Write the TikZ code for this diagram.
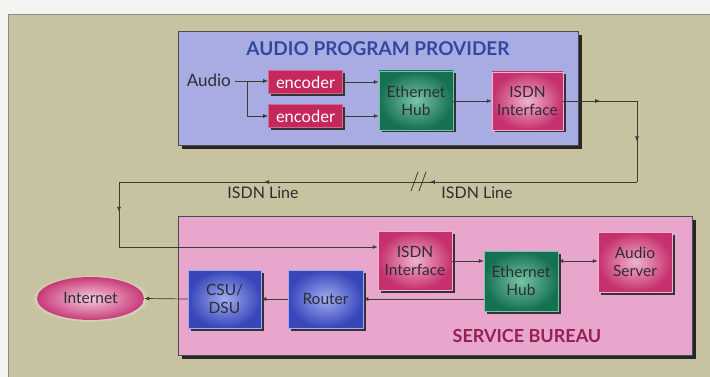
\documentclass[tikz,border=0pt]{standalone}
\usepackage{fontspec}
\setmainfont{Lato}
\usetikzlibrary{shadows,shapes.geometric,arrows.meta,decorations.markings}
\definecolor{pagebg}{RGB}{243,244,239}
\definecolor{tan}{RGB}{199,194,160}
\definecolor{appblue}{RGB}{168,172,226}
\definecolor{sbpink}{RGB}{232,166,204}
\definecolor{enccol}{RGB}{196,40,92}
\definecolor{pinkin}{RGB}{240,178,206}
\definecolor{pinkout}{RGB}{198,48,110}
\definecolor{greenin}{RGB}{120,196,166}
\definecolor{greenout}{RGB}{22,112,82}
\definecolor{bluein}{RGB}{160,172,240}
\definecolor{blueout}{RGB}{56,70,186}
\definecolor{inetin}{RGB}{246,205,224}
\definecolor{inetout}{RGB}{200,58,120}
\definecolor{titleblue}{RGB}{50,72,160}
\definecolor{sbtext}{RGB}{150,32,82}
\definecolor{linecol}{RGB}{60,60,55}
\definecolor{txtdark}{RGB}{45,45,50}
\tikzset{
  x=1pt, y=-1pt,
  bigshadow/.style={drop shadow={shadow xshift=3.5pt, shadow yshift=-3.5pt, fill=black!85, opacity=1}},
  smallshadow/.style={drop shadow={shadow xshift=2.5pt, shadow yshift=-2.5pt, fill=black!80, opacity=1}},
  boxtext/.style={font=\fontsize{15.5}{18}\selectfont, text=txtdark, align=center, inner sep=0pt},
  encbox/.style={rectangle, fill=enccol, draw=enccol!70!white, line width=0.6pt, minimum width=74pt, minimum height=23pt, smallshadow, text=white, font=\fontsize{16.5}{18}\selectfont, inner sep=0pt},
  pinkbox/.style={rectangle, inner color=pinkin, outer color=pinkout, draw=pinkin, line width=0.5pt, minimum width=74pt, minimum height=59pt, smallshadow, boxtext},
  greenbox/.style={rectangle, inner color=greenin, outer color=greenout, draw=greenin, line width=0.5pt, minimum width=74pt, minimum height=59pt, smallshadow, boxtext},
  bluebox/.style={rectangle, inner color=bluein, outer color=blueout, draw=bluein, line width=0.5pt, minimum width=74pt, minimum height=58pt, smallshadow, boxtext},
  conn/.style={draw=linecol, line width=0.7pt},
  tip/.style={-{Latex[length=5pt,width=4pt]}},
  midarrow/.style={postaction={decorate, decoration={markings, mark=at position #1 with {\arrow{Latex[length=5pt,width=4pt]}}}}},
  lbl/.style={font=\fontsize{16}{18}\selectfont, text=txtdark, inner sep=0pt},
}
\begin{document}
\begin{tikzpicture}
\useasboundingbox (0,0) rectangle (710,377);
\fill[pagebg] (0,0) rectangle (710,377);
\fill[tan] (8,14) rectangle (710,377);
\draw[black!45, line width=0.8pt] (8,377) -- (8,14) -- (710,14);

% large panels
\node[bigshadow, rectangle, fill=appblue, draw=black!70, line width=0.6pt, minimum width=400pt, minimum height=114pt, anchor=north west, inner sep=0pt] (app) at (178,31) {};
\node[bigshadow, rectangle, fill=sbpink, draw=black!70, line width=0.6pt, minimum width=514pt, minimum height=139pt, anchor=north west, inner sep=0pt] (sb) at (178,216) {};

\node[font=\fontsize{19}{22}\selectfont\bfseries, text=titleblue, inner sep=0pt] (title) at (378,49) {AUDIO PROGRAM PROVIDER};
\node[font=\fontsize{18}{21}\selectfont\bfseries, text=sbtext, inner sep=0pt] (sbtitle) at (527,336) {SERVICE BUREAU};

% top nodes
\node[lbl, font=\fontsize{17}{19}\selectfont, anchor=east] (audio) at (231,80) {Audio};
\node[encbox] (enc1) at (305.5,82) {encoder};
\node[encbox] (enc2) at (305.5,116) {encoder};
\node[greenbox] (hub1) at (416,100.5) {Ethernet\\Hub};
\node[pinkbox, minimum width=71pt, minimum height=58pt] (isdn1) at (527.5,101) {ISDN\\Interface};

% bottom nodes
\node[pinkbox] (isdn2) at (415,260.5) {ISDN\\Interface};
\node[greenbox, minimum height=60pt] (hub2) at (521,281) {Ethernet\\Hub};
\node[pinkbox, minimum height=60pt] (aserver) at (635,262) {Audio\\Server};
\node[bluebox, minimum width=75pt] (router) at (325.5,299) {Router};
\node[bluebox, minimum width=73pt] (csu) at (224.5,299) {CSU/\\DSU};
\node[ellipse, inner color=inetin, outer color=inetout, minimum width=107pt, minimum height=43pt, inner sep=0pt, boxtext, circular glow={fill=white!50!tan, shadow scale=1.1}] (inet) at (90.5,298.5) {Internet};

% coordinates
\coordinate (split) at (247,81);
\coordinate (c1) at (637,101);
\coordinate (c2) at (637,182);
\coordinate (c3) at (119,182);
\coordinate (c4) at (119,247);

% top connectors
\draw[conn, tip] (audio.east |- split) ++(4,0) -- (enc1.west |- split);
\draw[conn, tip] (split) |- (enc2.west);
\draw[conn, tip] (enc1.east) -- (enc1.east -| hub1.west);
\draw[conn, tip] (enc2.east) -- (enc2.east -| hub1.west);
\draw[conn, tip] (hub1.east |- isdn1.west) -- (isdn1.west);

% ISDN line
\draw[conn, midarrow=0.5] (isdn1.east) -- (c1);
\draw[conn, midarrow=0.5] (c1) -- (c2);
\draw[conn, midarrow=0.4, midarrow=0.72] (c2) -- (c3);
\draw[conn, midarrow=0.46] (c3) -- (c4);
\draw[conn, tip] (c4) -- (c4 -| isdn2.west);
\draw[linecol, line width=0.8pt] (411,191) -- (418,172) (419,191) -- (426,172);
\node[lbl, anchor=base] (l1) at (263,198) {ISDN Line};
\node[lbl, anchor=base] (l2) at (477,198) {ISDN Line};

% bottom connectors
\coordinate (r1) at (452,261);
\draw[conn, tip] (r1) -- (r1 -| hub2.west);
\coordinate (r2) at (558,261);
\draw[conn, {Latex[length=5pt,width=4pt]}-{Latex[length=5pt,width=4pt]}] (r2) -- (r2 -| aserver.west);
\draw[conn, tip] (router.east -| hub2.west) -- (router.east);
\draw[conn, tip] (router.west) -- (csu.east);
\draw[conn, tip] (csu.west) -- (inet.east);
\end{tikzpicture}
\end{document}
